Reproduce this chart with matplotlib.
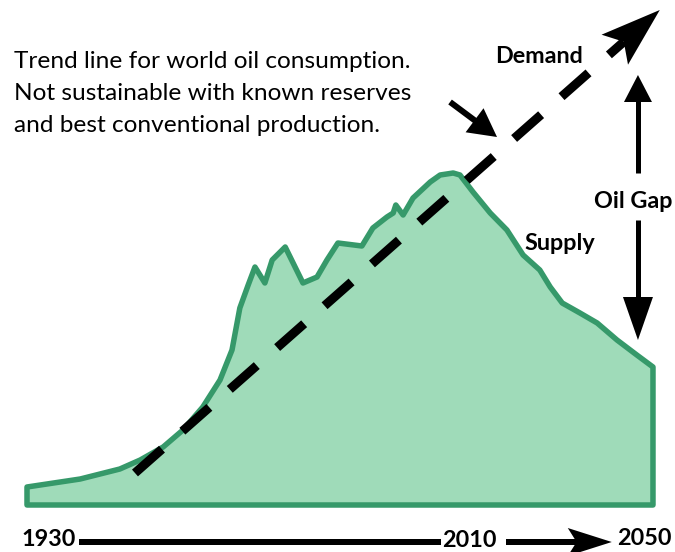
import numpy as np
import matplotlib
matplotlib.use("Agg")
import matplotlib.pyplot as plt
from matplotlib.patches import Polygon

# ---------------- data ----------------
supply_years = [1930.0, 1940.2, 1947.8, 1951.7, 1956.1, 1959.9, 1963.7, 1967.0, 1969.3,
                1970.8, 1972.4, 1973.7, 1975.6, 1977.0, 1979.5, 1982.9, 1985.6, 1987.5,
                1989.6, 1994.2, 1996.3, 1999.0, 2000.2, 2000.7, 2002.1, 2004.0, 2007.3,
                2009.2, 2011.7, 2013.0, 2015.5, 2018.8, 2022.0, 2025.1, 2028.3, 2030.3,
                2032.6, 2036.0, 2039.3, 2043.1, 2046.9, 2050.0]
supply_values = [18, 26, 36, 45, 58, 75, 98, 125, 155, 197, 220, 238, 222, 245, 258, 222,
                 228, 245, 262, 259, 277, 288, 292, 300, 290, 307, 323, 330, 332, 330, 313,
                 292, 275, 250, 235, 218, 202, 192, 182, 165, 150, 138]
demand_years = [1950.7, 2051.3]
demand_values = [32, 495]
year_labels = ["1930", "2010", "2050"]
note_lines = ["Trend line for world oil consumption.",
              "Not sustainable with known reserves",
              "and best conventional production."]

W, H, DPI = 675, 552, 100
FILL = "#9fdbb9"
EDGE = "#36996a"

fig = plt.figure(figsize=(W / DPI, H / DPI), dpi=DPI)
ax = fig.add_axes([0, 0, 1, 1])
ax.set_xlim(1924.824, 2054.22)
ax.set_ylim(-47, 505)
ax.axis("off")

REG = dict(family=["Lato", "DejaVu Sans"], fontsize=17.6)
BOLD = dict(family=["Lato", "DejaVu Sans"], fontsize=16.8, fontweight="bold")


def ptext(x, y, s, **kw):
    ax.text(x / W, 1 - y / H, s, transform=ax.transAxes, ha="left", va="baseline",
            color="black", **kw)


def arrow(p0, p1, lw_px, head_len=0.0, head_half=0.0, notch=1.0, ls="-", z=5):
    T = ax.transData
    a = T.transform(p0)
    b = T.transform(p1)
    d = b - a
    L = np.hypot(*d)
    u = d / L
    n = np.array([-u[1], u[0]])
    if head_len > 0:
        head = np.array([b, b - u * head_len + n * head_half, b - u * head_len * notch,
                         b - u * head_len - n * head_half])
        ax.add_patch(Polygon(T.inverted().transform(head), closed=True,
                             facecolor="black", edgecolor="none", zorder=z))
        s_end = head_len * notch if notch < 1 else head_len - 1
        end = b - u * s_end
    else:
        end = b
    seg = T.inverted().transform(np.array([a, end]))
    ax.plot(seg[:, 0], seg[:, 1], color="black", lw=lw_px * 72 / DPI, linestyle=ls,
            solid_capstyle="butt", dash_capstyle="butt", zorder=z)


# supply area
xs = list(supply_years) + [supply_years[-1], supply_years[0]]
ys = list(supply_values) + [0, 0]
ax.fill(xs, ys, facecolor=FILL, edgecolor=EDGE, linewidth=5.5 * 72 / DPI,
        joinstyle="round", zorder=2)

# demand trend (dashed arrow)
lw_d = 9
arrow((demand_years[0], demand_values[0]), (demand_years[1], demand_values[1]), lw_d,
      head_len=60, head_half=20, notch=0.8,
      ls=(0, (36 / lw_d, 27.2 / lw_d)))

# pointer from note to trend line
arrow((2011.1, 403), (2020.1, 368), 6, head_len=28, head_half=15)

# oil gap arrows
gx = 2047.12
arrow((gx, 332), (gx, 430), 5, head_len=27, head_half=14)
arrow((gx, 285), (gx, 165), 5, head_len=43, head_half=15)

# time axis arrows
arrow((1940.0, -37), (2009.4, -37), 6)
arrow((2021.8, -37), (2042.1, -37), 6, head_len=44, head_half=14, notch=0.8)

# texts
for i, line in enumerate(note_lines):
    ptext(14, 68 + i * 32.2, line, **REG)
ptext(495, 63, "Demand", **BOLD)
ptext(524, 250, "Supply", **BOLD)
ptext(594, 208, "Oil Gap", **BOLD)
ptext(21, 546, year_labels[0], **BOLD)
ptext(442, 547, year_labels[1], **BOLD)
ptext(617, 545, year_labels[2], **BOLD)

fig.savefig("out.png", dpi=DPI)
